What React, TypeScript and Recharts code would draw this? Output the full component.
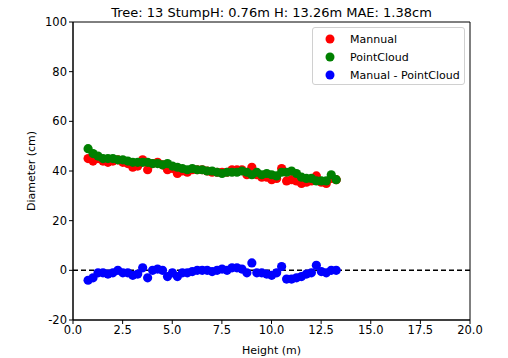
import React from 'react';
import {
  ScatterChart, Scatter, XAxis, YAxis, ReferenceLine, ReferenceArea,
} from 'recharts';

const heights = [
  0.76, 1.01, 1.26, 1.51, 1.76, 2.01, 2.26, 2.51, 2.76, 3.01,
  3.26, 3.51, 3.76, 4.01, 4.26, 4.51, 4.76, 5.01, 5.26, 5.51,
  5.76, 6.01, 6.26, 6.51, 6.76, 7.01, 7.26, 7.51, 7.76, 8.01,
  8.26, 8.51, 8.76, 9.01, 9.26, 9.51, 9.76, 10.01, 10.26, 10.51,
  10.76, 11.01, 11.26, 11.51, 11.76, 12.01, 12.26, 12.51, 12.76, 13.01,
  13.26,
];

const manual = [
  45, 44, 45, 44, 43.5, 44, 44.5, 43.5, 43, 41.5,
  42, 44.5, 40.5, 43, 43.5, 42.5, 40.5, 41, 39, 40,
  39.5, 40.5, 40.5, 40.5, 40, 39.5, 39.5, 39.5, 39.5, 40.5,
  40.5, 40.5, 38.5, 41.5, 38.5, 37.5, 37.5, 36.5, 37, 41,
  36, 36.5, 36, 35, 35.5, 36, 38, 35.5, 35, 37,
  36.5,
];

const pointCloud = [
  49, 47, 46, 45, 45, 45, 44.5, 44.5, 44, 43.5,
  43.5, 43.5, 43.5, 43, 43, 42.5, 43, 42, 41.5, 41,
  40.5, 41, 40.5, 40.5, 40, 40, 39.5, 39, 39.5, 39.5,
  39.5, 40, 39.5, 38.5, 39.5, 38.5, 39, 38.5, 38, 39.5,
  39.5, 40, 39, 37.5, 37, 37, 36, 36, 36, 38.5,
  36.5,
];

const diff = [
  -4, -3, -1, -1, -1.5, -1, 0, -1, -1, -2,
  -1.5, 1, -3, 0, 0.5, 0, -2.5, -1, -2.5, -1,
  -1, -0.5, 0, 0, 0, -0.5, 0, 0.5, 0, 1,
  1, 0.5, -1, 3, -1, -1, -1.5, -2, -1, 1.5,
  -3.5, -3.5, -3, -2.5, -1.5, -1, 2, -0.5, -1, 0,
  0,
];

const xTicks = [0, 2.5, 5, 7.5, 10, 12.5, 15, 17.5, 20];
const yTicks = [-20, 0, 20, 40, 60, 80, 100];

const legendItems = [
  { label: 'Mannual', color: '#ff0000' },
  { label: 'PointCloud', color: '#008000' },
  { label: 'Manual - PointCloud', color: '#0000ff' },
];

const toPoints = (ys: number[]) => heights.map((h, i) => ({ x: h, y: ys[i] }));

const dot = (color: string) => (props: any) => (
  <circle cx={props.cx} cy={props.cy} r={4.6} fill={color} />
);

const font = '"DejaVu Sans", sans-serif';

const LegendBox = () => (
  <div style={{
    position: 'absolute', left: 312, top: 27, width: 153, height: 58, boxSizing: 'border-box',
    border: '1px solid #d0d0d0', borderRadius: 3, background: 'rgba(255,255,255,0.9)',
    padding: '2px 0 0 8px', fontFamily: font, fontSize: 11, color: '#000',
  }}>
    {legendItems.map((it) => (
      <div key={it.label} style={{ display: 'flex', alignItems: 'center', height: 18 }}>
        <svg width={22} height={10} style={{ marginRight: 7 }}>
          <circle cx={9} cy={5} r={4.5} fill={it.color} />
        </svg>
        {it.label}
      </div>
    ))}
  </div>
);

export default function App() {
  return (
    <div style={{ position: 'fixed', left: 0, top: 0, width: 508, height: 358, background: '#fff', fontFamily: font }}>
      <div style={{ position: 'absolute', top: 5, left: 73, width: 397, textAlign: 'center', fontSize: 13 }}>
        Tree: 13 StumpH: 0.76m H: 13.26m MAE: 1.38cm
      </div>
      <ScatterChart width={508} height={358} margin={{ top: 22, right: 38, bottom: 0, left: 0 }}>
        <XAxis
          type="number" dataKey="x" domain={[0, 20]} ticks={xTicks} height={38}
          tickSize={4} stroke="#000" tick={{ fill: '#000', fontSize: 11.5, fontFamily: font }}
          tickFormatter={(v: number) => v.toFixed(1)} allowDataOverflow
          label={{ value: 'Height (m)', position: 'insideBottom', offset: 4, fill: '#000', fontSize: 11, fontFamily: font }}
        />
        <YAxis
          type="number" dataKey="y" domain={[-20, 100]} ticks={yTicks} width={73}
          tickSize={4} stroke="#000" tick={{ fill: '#000', fontSize: 11.5, fontFamily: font }}
          allowDataOverflow
          label={{ value: 'Diameter (cm)', angle: -90, position: 'insideLeft', offset: 31, style: { textAnchor: 'middle' }, fill: '#000', fontSize: 11, fontFamily: font }}
        />
        <ReferenceArea x1={0} x2={20} y1={-20} y2={100} fill="none" stroke="#000" strokeWidth={1} />
        <ReferenceLine y={0} stroke="#000" strokeWidth={1.5} strokeDasharray="5 3" />
        <Scatter name="Mannual" data={toPoints(manual)} fill="#ff0000" shape={dot('#ff0000')} isAnimationActive={false} />
        <Scatter name="PointCloud" data={toPoints(pointCloud)} fill="#008000" shape={dot('#008000')} isAnimationActive={false} />
        <Scatter name="Manual - PointCloud" data={toPoints(diff)} fill="#0000ff" shape={dot('#0000ff')} isAnimationActive={false} />
      </ScatterChart>
      <LegendBox />
    </div>
  );
}
